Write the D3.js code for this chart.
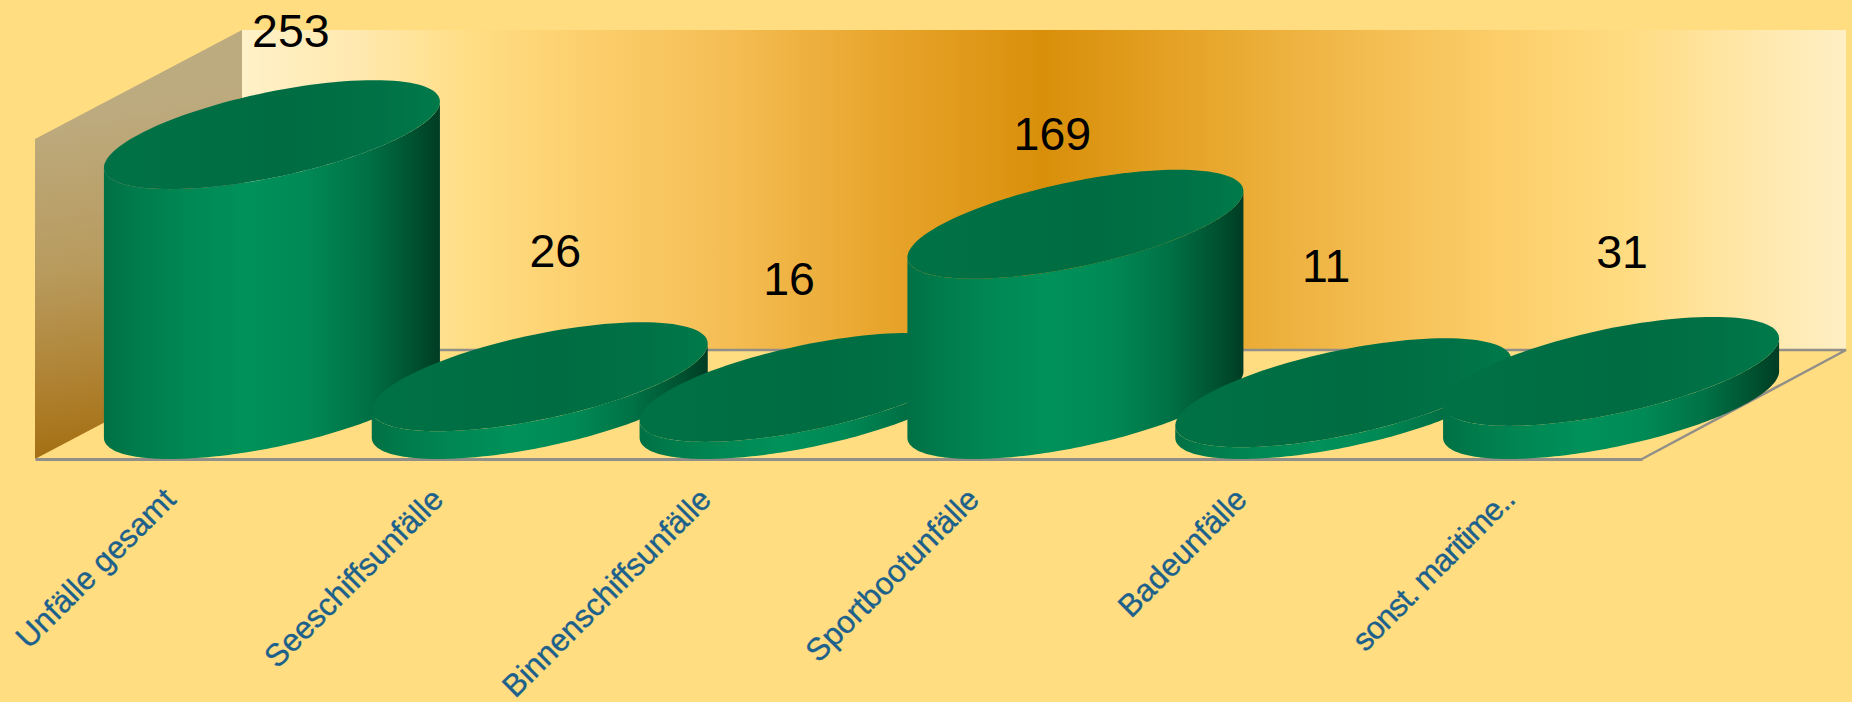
<!DOCTYPE html>
<html lang="de">
<head>
<meta charset="utf-8">
<title>Unfälle</title>
<script src="https://cdn.jsdelivr.net/npm/d3@7/dist/d3.min.js"></script>
<style>
  html, body { margin: 0; padding: 0; background: #FFDD80; overflow: hidden; }
  svg { display: block; }
</style>
</head>
<body>
<svg id="chart" width="1852" height="702"></svg>
<script>
// Accident counts per category
const categories = ["Unfälle gesamt", "Seeschiffsunfälle", "Binnenschiffsunfälle", "Sportbootunfälle", "Badeunfälle", "sonst. maritime.."];
const values = [253, 26, 16, 169, 11, 31];

// Hand-placed value labels: shift from each cylinder's centre and lift above its top
const labelShiftX = [20, 16.5, -17.5, -22, -16, 12];
const labelLift = [33, 55, 38, 20, 56, 49];

const width = 1852, height = 702;
const floorFrontY = 459, wallHeight = 320;
const depthX = 204, depthY = -109;   // projected vector from front to back of the floor
const frontLeft = 35, frontRight = 1642;
const radiusX = 133.5;

const x = d3.scaleBand().domain(categories).range([frontLeft, frontRight]).padding(0);
const h = d3.scaleLinear().domain([0, 300]).range([0, wallHeight]);

const svg = d3.select("#chart");
const defs = svg.append("defs");

function gradient(id, attrs, stops, units = "userSpaceOnUse") {
  const g = defs.append("linearGradient").attr("id", id).attr("gradientUnits", units);
  Object.entries(attrs).forEach(([k, v]) => g.attr(k, v));
  stops.forEach(([o, c]) => g.append("stop").attr("offset", o).attr("stop-color", c));
}

const backLeft = frontLeft + depthX + 3;
const backRight = frontRight + depthX;
const backY = floorFrontY + depthY;

gradient("wall", { x1: backLeft, x2: backRight, y1: 0, y2: 0 }, [
  [0, "#FFF1C8"], [0.07, "#FFE9B0"], [0.14, "#FFDE85"], [0.2, "#FDD271"], [0.3, "#F5BE55"],
  [0.4, "#E8A52C"], [0.5, "#D98F0A"], [0.6, "#E7A62B"], [0.7, "#F3BC50"], [0.78, "#FCCD68"],
  [0.86, "#FFDB80"], [0.93, "#FFE6A5"], [1, "#FFEFC4"]
]);
gradient("sideWall", { x1: 70, y1: 110, x2: 130, y2: 460 }, [
  [0, "#BDAB80"], [0.45, "#B89A5C"], [0.75, "#AF8232"], [1, "#A36C0C"]
]);
gradient("topFace", { x1: 0.1, y1: 0.5, x2: 1, y2: 0.5 }, [
  [0, "#007045"], [0.5, "#006C42"], [0.8, "#007146"], [1, "#007A4A"]
], "objectBoundingBox");

// Back wall, side wall and floor outline
svg.append("rect")
  .attr("x", backLeft).attr("y", backY - wallHeight)
  .attr("width", backRight - backLeft).attr("height", wallHeight)
  .attr("fill", "url(#wall)");
svg.append("path")
  .attr("d", d3.line()([
    [frontLeft, floorFrontY], [frontLeft, floorFrontY - wallHeight],
    [backLeft, backY - wallHeight], [backLeft, backY]
  ]) + "Z")
  .attr("fill", "url(#sideWall)");
svg.append("path")
  .attr("d", d3.line()([[backLeft, backY], [backRight, backY], [frontRight, floorFrontY]]))
  .attr("fill", "none").attr("stroke", "#928F88").attr("stroke-width", 2.5);

// Category axis along the front edge of the floor
const axis = svg.append("g")
  .attr("transform", `translate(0,${floorFrontY})`)
  .call(d3.axisBottom(x).tickSize(0).tickSizeOuter(0));
axis.select(".domain").attr("stroke", "#928F88").attr("stroke-width", 3);
axis.selectAll("text")
  .attr("font-family", "'Liberation Sans', Arial, sans-serif")
  .attr("font-size", 31.5)
  .attr("fill", "#1C608C")
  .attr("stroke", "#1C608C")
  .attr("stroke-width", 0.35)
  .attr("text-anchor", "end")
  .attr("dy", null)
  .attr("y", 0)
  .attr("transform", "translate(-8,26) rotate(-45)")
  .attr("dominant-baseline", "hanging");
// The truncated label is set a little tighter
axis.selectAll("text")
  .filter(d => d.endsWith(".."))
  .attr("letter-spacing", -1);

// One elliptical disc in the sheared floor plane
const offsetX = depthX / 2, offsetY = -depthY / 2;
const extentX = Math.hypot(radiusX, offsetX);
const tangent = Math.atan2(offsetX, radiusX);
const point = (cx, cy, t) => [
  cx + radiusX * Math.cos(t) + offsetX * Math.sin(t),
  cy - offsetY * Math.sin(t)
];
const outline = d3.line();
const angles = (a, b) => d3.range(0, 121).map(i => a + (b - a) * i / 120);

const cylinders = svg.selectAll("g.cylinder")
  .data(categories.map((c, i) => ({ c, v: values[i], i })))
  .join("g").attr("class", "cylinder");

cylinders.each(function (d) {
  const g = d3.select(this);
  const cx = x(d.c) + x.bandwidth() / 2 + depthX / 2 + 1;
  const bottomY = floorFrontY + depthY / 2;
  const topY = bottomY - h(d.v);

  gradient(`side${d.i}`, { x1: cx - extentX, x2: cx + extentX, y1: 0, y2: 0 }, [
    [0, "#007045"], [0.1, "#007C4B"], [0.25, "#008853"], [0.42, "#00915A"], [0.6, "#008A55"],
    [0.78, "#007146"], [0.92, "#00522F"], [1, "#003C25"]
  ]);

  // Side wall: front half of the base joined to the front half of the top
  const rightT = tangent, leftT = tangent + Math.PI;
  const front = angles(leftT, rightT + 2 * Math.PI).map(t => point(cx, bottomY, t));
  const back = angles(rightT + 2 * Math.PI, leftT).map(t => point(cx, topY, t));
  g.append("path")
    .attr("d", outline(front.concat(back)) + "Z")
    .attr("fill", `url(#side${d.i})`);

  g.append("path")
    .attr("d", outline(angles(0, 2 * Math.PI).map(t => point(cx, topY, t))) + "Z")
    .attr("fill", "url(#topFace)");
});

// Value labels
svg.selectAll("text.value")
  .data(values)
  .join("text")
  .attr("class", "value")
  .attr("x", (v, i) => x(categories[i]) + x.bandwidth() / 2 + depthX / 2 + labelShiftX[i])
  .attr("y", (v, i) => floorFrontY + depthY - h(v) - labelLift[i])
  .attr("text-anchor", "middle")
  .attr("font-family", "'Liberation Sans', Arial, sans-serif")
  .attr("font-size", 46.5)
  .attr("fill", "#000")
  .text(v => v);
</script>
</body>
</html>
